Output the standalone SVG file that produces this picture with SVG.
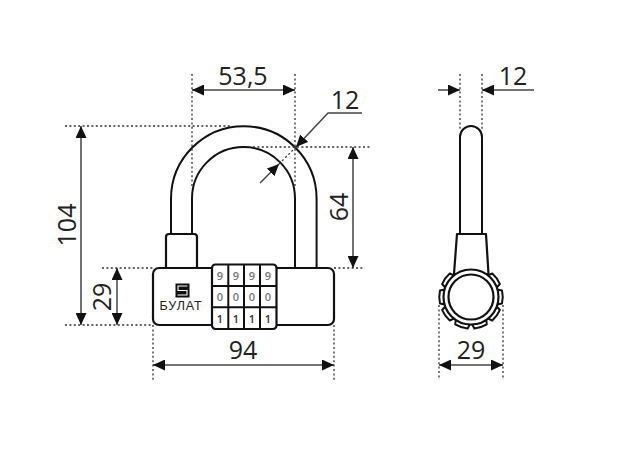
<svg xmlns="http://www.w3.org/2000/svg" xmlns:xlink="http://www.w3.org/1999/xlink" width="635" height="475" viewBox="0 0 635 475">
<style>
.o{fill:none;stroke:#111;stroke-width:2;stroke-linejoin:round}
.b{fill:#fff;stroke:#111;stroke-width:2.2;stroke-linejoin:round}
.d{fill:none;stroke:#444;stroke-width:1.5}
.p{fill:none;stroke:#333;stroke-width:1.3;stroke-dasharray:2 2.4}
.t{font-family:"Open Sans","Liberation Sans",sans-serif;font-size:25px;fill:#222;text-anchor:middle}
.k{font-family:"Open Sans","Liberation Sans",sans-serif;font-size:11px;font-weight:600;text-anchor:middle}
.g{fill:#777}.n{fill:#333}
</style>
<defs>
<marker id="a" viewBox="0 0 12 11" refX="12" refY="5.500" markerWidth="12" markerHeight="11" markerUnits="userSpaceOnUse" orient="auto-start-reverse"><path d="M0 0L12 5.500L0 11Z" fill="#111"/></marker>
<path id="kn" d="M26 -7.500L31 -6.500Q32.500 0 31 6.500L26 7.500Z" fill="#fff" stroke="#111" stroke-width="2" stroke-linejoin="round"/>
</defs>
<g id="front-lock">
<path class="o" d="M171 235V199A72.800 72.800 0 0 1 316.600 199V268"/>
<path class="o" d="M192 235V198.500A51.500 51.500 0 0 1 295 198.500V268"/>
<path class="b" d="M166 268V237Q166 234 169 234H194Q197 234 197 237V268Z"/>
<rect class="b" x="153" y="268" width="181" height="57" rx="6"/>
<rect class="b" x="212" y="264.500" width="64.500" height="64.500" rx="3.500"/>
<path class="o" d="M228.300 265V329M244 265V329M260 265V329M212 286H276.500M212 307.300H276.500"/>
<g class="k">
<text class="g" x="220" y="280">9</text><text class="g" x="236" y="280">9</text><text class="g" x="252" y="280">9</text><text class="g" x="268" y="280">9</text>
<text class="g" x="220" y="301">0</text><text class="g" x="236" y="301">0</text><text class="g" x="252" y="301">0</text><text class="g" x="268" y="301">0</text>
<text class="n" x="220" y="323">1</text><text class="n" x="236" y="323">1</text><text class="n" x="252" y="323">1</text><text class="n" x="268" y="323">1</text>
</g>
<rect x="175.500" y="283.500" width="14" height="14" fill="#111"/>
<path d="M187.500 286H178V290.500H187V295H177.500" fill="none" stroke="#fff" stroke-width="1.100"/>
<text x="181" y="310" font-family="'Liberation Sans',sans-serif" font-size="12.500" letter-spacing="0.900" text-anchor="middle" fill="#222">БУЛАТ</text>
</g>
<g id="side-lock">
<path class="o" d="M460 234V137A11 11 0 0 1 482 137V234"/>
<path class="b" d="M457 234H486L488.500 274H454Z"/>
<use xlink:href="#kn" transform="translate(471 297)"/>
<use xlink:href="#kn" transform="translate(471 297) rotate(36)"/>
<use xlink:href="#kn" transform="translate(471 297) rotate(72)"/>
<use xlink:href="#kn" transform="translate(471 297) rotate(108)"/>
<use xlink:href="#kn" transform="translate(471 297) rotate(144)"/>
<use xlink:href="#kn" transform="translate(471 297) rotate(180)"/>
<use xlink:href="#kn" transform="translate(471 297) rotate(216)"/>
<use xlink:href="#kn" transform="translate(471 297) rotate(324)"/>
<circle cx="471" cy="297" r="27.500" class="b"/>
<circle cx="471" cy="297" r="22.500" class="b"/>
</g>
<g id="connectors">
<path class="p" d="M192 74V187M295 74V187M65 126H232M253 147H370M102 268H153M65 325H153M334 268H365M153 325V380M334 325V380M460 74V130M482 74V130M439 305V380M503 305V380M296 147L273 170"/>
<path class="d" d="M192 90H295" marker-start="url(#a)" marker-end="url(#a)"/>
<path class="d" d="M81 126V325" marker-start="url(#a)" marker-end="url(#a)"/>
<path class="d" d="M117 268V325" marker-start="url(#a)" marker-end="url(#a)"/>
<path class="d" d="M353 147V268" marker-start="url(#a)" marker-end="url(#a)"/>
<path class="d" d="M153 365H334" marker-start="url(#a)" marker-end="url(#a)"/>
<path class="d" d="M439 365H503" marker-start="url(#a)" marker-end="url(#a)"/>
<path class="d" d="M438 90H460" marker-end="url(#a)"/>
<path class="d" d="M534 90H482" marker-end="url(#a)"/>
<path class="d" d="M362 113H328L296 147" marker-end="url(#a)"/>
<path class="d" d="M260 183L279 164" marker-end="url(#a)"/>
</g>
<g id="labels">
<text class="t" x="243" y="85">53,5</text>
<text class="t" x="345" y="109">12</text>
<text class="t" x="513" y="85">12</text>
<text class="t" x="243" y="359">94</text>
<text class="t" x="471" y="359">29</text>
<text class="t" transform="translate(76 225) rotate(-90)">104</text>
<text class="t" transform="translate(111 297) rotate(-90)">29</text>
<text class="t" transform="translate(348 207) rotate(-90)">64</text>
</g>
</svg>
